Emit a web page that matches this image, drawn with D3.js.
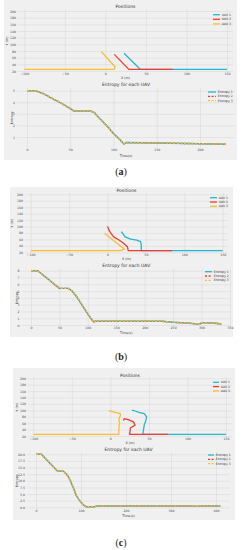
<!DOCTYPE html>
<html>
<head>
<meta charset="utf-8">
<script src="https://cdn.jsdelivr.net/npm/d3@7"></script>
<style>
  html, body { margin: 0; padding: 0; background: #ffffff; }
  svg { display: block; font-family: "DejaVu Sans", sans-serif; }
</style>
</head>
<body>
<svg id="fig" width="242" height="550"></svg>
<script>
// ---- data ----
const uavNames = ["UAV 1", "UAV 2", "UAV 3"];
const entropyNames = ["Entropy 1", "Entropy 2", "Entropy 3"];
const seriesColors = ["#22b8cc", "#f23a2c", "#fbbd2e"];

const posTicksX = [-100, -50, 0, 50, 100, 150];
const posTicksY = [20, 40, 60, 80, 100, 120, 140, 160, 180, 200];

// (a)
const posA_uav1 = [[150, 25], [43, 25], [23, 73]];
const posA_uav2 = [[83, 25], [29, 25], [11, 70]];
const posA_uav3 = [[-100, 25], [11, 25], [12, 32], [-5, 78]];
const entA = [[0, 5], [10, 5], [20, 4.7], [30, 4.3], [40, 3.9], [50, 3.45], [54, 3.25], [73, 3.25],
  [78, 3.1], [84, 2.6], [92, 2.0], [100, 1.3], [107, 0.8], [112, 0.4], [115, 0.52], [150, 0.48],
  [200, 0.42], [230, 0.38]];
const entTicksXA = [0, 50, 100, 150, 200];
const entTicksYA = [1, 2, 3, 4, 5];

// (b)
const posB_uav1 = [[150, 25], [44, 25], [44, 43], [43, 53], [38, 58], [30, 61], [23, 68], [18, 84]];
const posB_uav2 = [[84, 25], [27, 25], [26, 37], [21, 48], [15, 58], [8, 68], [3, 84], [0, 100]];
const posB_uav3 = [[-100, 25], [17, 25], [22, 30], [14, 45], [5, 62], [-4, 79]];
const entB = [[0, 8], [12, 8], [50, 5.4], [66, 5.4], [72, 5.0], [80, 4.2], [90, 2.9], [100, 1.6],
  [105, 1.0], [110, 0.45], [113, 0.55], [230, 0.55], [250, 0.4], [280, 0.25], [296, 0.1],
  [300, 0.35], [320, 0.3], [335, 0.15]];
const entTicksXB = [0, 50, 100, 150, 200, 250, 300, 350];
const entTicksYB = [0, 1, 2, 3, 4, 5, 6, 7, 8];

// (c)
const posC_uav1 = [[150, 25], [42, 25], [43, 40], [44, 55], [46, 68], [47, 80], [44, 90], [37, 94], [32, 98], [28, 101]];
const posC_uav2 = [[75, 25], [25, 25], [26, 45], [32, 54], [30, 64], [24, 70], [18, 74], [17, 68]];
const posC_uav3 = [[-100, 25], [11, 25], [11, 45], [12, 61], [11, 72], [13, 85], [13, 90], [6, 94], [-2, 99]];
const entC = [[0, 20], [12, 20], [48, 13.6], [61, 13.6], [68, 12.5], [74, 10.9], [82, 7.8], [89, 4.6],
  [95, 3.0], [100, 1.9], [106, 0.8], [111, 0.2], [130, 0.2], [137, 0.5], [350, 0.5], [356, 0.35],
  [366, 0.5], [410, 0.5]];
const entTicksXC = [0, 100, 200, 300, 400];
const entTicksYC = [0, 2.5, 5, 7.5, 10, 12.5, 15, 17.5, 20];

// ---- layout (pixels) ----
const figs = [
  {
    tag: "a", panel: [4, 0, 233, 160], labelY: 175,
    pos: { data: [posA_uav1, posA_uav2, posA_uav3],
      xd: [-100, 150], xr: [24.3, 227], yd: [20, 200], yr: [71, 11],
      area: [18, 233, 9.5, 72.5], titleY: 8.3, xlabY: 79, ylabX: 7, leg: [213, 14.7, 4.6, 7] },
    ent: { data: [entA, entA, entA], tx: entTicksXA, ty: entTicksYA, fy: d3.format("d"),
      xd: [0, 200], xr: [27, 200], yd: [1, 5], yr: [137, 90.7],
      area: [17, 235, 87.5, 148], titleY: 85.6, xlabY: 156.8, ylabX: 12, leg: [208, 92, 4.3, 8] }
  },
  {
    tag: "b", panel: [10, 187, 223, 150], labelY: 360,
    pos: { data: [posB_uav1, posB_uav2, posB_uav3],
      xd: [-100, 150], xr: [30.7, 222.7], yd: [20, 200], yr: [252.3, 194.3],
      area: [25, 228, 193, 253.5], titleY: 192.2, xlabY: 259.8, ylabX: 12, leg: [210, 197.7, 4.3, 7] },
    ent: { data: [entB, entB, entB], tx: entTicksXB, ty: entTicksYB, fy: d3.format("d"),
      xd: [0, 350], xr: [31, 230], yd: [0, 8], yr: [325, 270.7],
      area: [21.5, 231, 268.8, 326.5], titleY: 267.3, xlabY: 334.2, ylabX: 16.7, leg: [205, 271.7, 4.3, 7] }
  },
  {
    tag: "c", panel: [13, 368, 222, 152], labelY: 546,
    pos: { data: [posC_uav1, posC_uav2, posC_uav3],
      xd: [-100, 150], xr: [33.3, 226], yd: [20, 200], yr: [436, 378.3],
      area: [28, 232, 377, 437.5], titleY: 376.6, xlabY: 443.8, ylabX: 17.3, leg: [213, 382.3, 4.3, 6] },
    ent: { data: [entC, entC, entC], tx: entTicksXC, ty: entTicksYC, fy: d3.format(".1f"),
      xd: [0, 400], xr: [36, 216], yd: [0, 20], yr: [507.3, 454.3],
      area: [27, 230, 452, 509], titleY: 450.6, xlabY: 516.6, ylabX: 17.3, leg: [208, 455, 4.3, 6] }
  }
];

const svg = d3.select("#fig");

function grid(g, x, y, a, tx, ty, fy) {
  const gx = g.append("g")
    .attr("transform", "translate(0," + a[3] + ")")
    .call(d3.axisBottom(x).tickValues(tx).tickSize(-(a[3] - a[2])).tickPadding(0.6).tickFormat(d3.format("d")));
  const gy = g.append("g")
    .attr("transform", "translate(" + a[0] + ",0)")
    .call(d3.axisLeft(y).tickValues(ty).tickSize(-(a[1] - a[0])).tickPadding(2).tickFormat(fy));
  [gx, gy].forEach(function(ax) {
    ax.attr("font-family", null);
    ax.select(".domain").remove();
    ax.selectAll(".tick line").attr("stroke", "#d6d6d6").attr("stroke-width", 0.5);
    ax.selectAll(".tick text").attr("fill", "#4a4a4a").attr("font-size", 3.2);
  });
  gy.selectAll(".tick line").attr("x1", 0);
}

function labels(g, cfg, title, xlab, ylab) {
  const a = cfg.area;
  const cx = (a[0] + a[1]) / 2;
  g.append("text").attr("x", cx).attr("y", cfg.titleY).attr("text-anchor", "middle")
    .attr("font-size", 4.5).attr("fill", "#333").text(title);
  g.append("text").attr("x", cx).attr("y", cfg.xlabY).attr("text-anchor", "middle")
    .attr("font-size", 3.3).attr("fill", "#333").text(xlab);
  const cy = (a[2] + a[3]) / 2;
  g.append("text").attr("transform", "translate(" + cfg.ylabX + "," + cy + ") rotate(-90)")
    .attr("text-anchor", "middle").attr("dy", "0.35em")
    .attr("font-size", 3.3).attr("fill", "#333").text(ylab);
}

function legend(g, leg, names, dashes, width) {
  names.forEach(function(n, i) {
    const yy = leg[1] + i * leg[2];
    g.append("line").attr("x1", leg[0]).attr("x2", leg[0] + leg[3])
      .attr("y1", yy).attr("y2", yy)
      .attr("stroke", seriesColors[i]).attr("stroke-width", width)
      .attr("stroke-dasharray", dashes[i]);
    g.append("text").attr("x", leg[0] + leg[3] + 1.8).attr("y", yy).attr("dy", "0.35em")
      .attr("font-size", 3.1).attr("fill", "#333").text(n);
  });
}

figs.forEach(function(f) {
  const g = svg.append("g");
  g.append("rect").attr("x", f.panel[0]).attr("y", f.panel[1])
    .attr("width", f.panel[2]).attr("height", f.panel[3]).attr("fill", "#f0f0f0");

  // positions
  const p = f.pos;
  const px = d3.scaleLinear().domain(p.xd).range(p.xr);
  const py = d3.scaleLinear().domain(p.yd).range(p.yr);
  grid(g, px, py, p.area, posTicksX, posTicksY, d3.format("d"));
  labels(g, p, "Positions", "X (m)", "Y (m)");
  const pline = d3.line().x(function(d) { return px(d[0]); }).y(function(d) { return py(d[1]); });
  p.data.forEach(function(s, i) {
    g.append("path").attr("d", pline(s)).attr("fill", "none")
      .attr("stroke", seriesColors[i]).attr("stroke-width", 1.3)
      .attr("stroke-linejoin", "round");
  });
  legend(g, p.leg, uavNames, [null, null, null], 1.3);

  // entropy
  const e = f.ent;
  const ex = d3.scaleLinear().domain(e.xd).range(e.xr);
  const ey = d3.scaleLinear().domain(e.yd).range(e.yr);
  grid(g, ex, ey, e.area, e.tx, e.ty, e.fy);
  labels(g, e, "Entropy for each UAV", "Time(s)", "Entropy");
  const eline = d3.line().x(function(d) { return ex(d[0]); }).y(function(d) { return ey(d[1]); });
  const dashes = [null, "2,1.6", "2,1.6"];
  e.data.forEach(function(s, i) {
    g.append("path").attr("d", eline(s)).attr("fill", "none")
      .attr("stroke", seriesColors[i]).attr("stroke-width", 1.4)
      .attr("stroke-dasharray", dashes[i]).attr("stroke-linejoin", "round");
  });
  legend(g, e.leg, entropyNames, dashes, 1.3);

  // sub-figure tag
  const t = svg.append("text").attr("x", 121).attr("y", f.labelY).attr("text-anchor", "middle")
    .attr("font-family", "Liberation Serif, serif").attr("font-size", 10).attr("fill", "#222");
  t.append("tspan").text("(");
  t.append("tspan").attr("font-weight", "bold").text(f.tag);
  t.append("tspan").text(")");
});
</script>
</body>
</html>
